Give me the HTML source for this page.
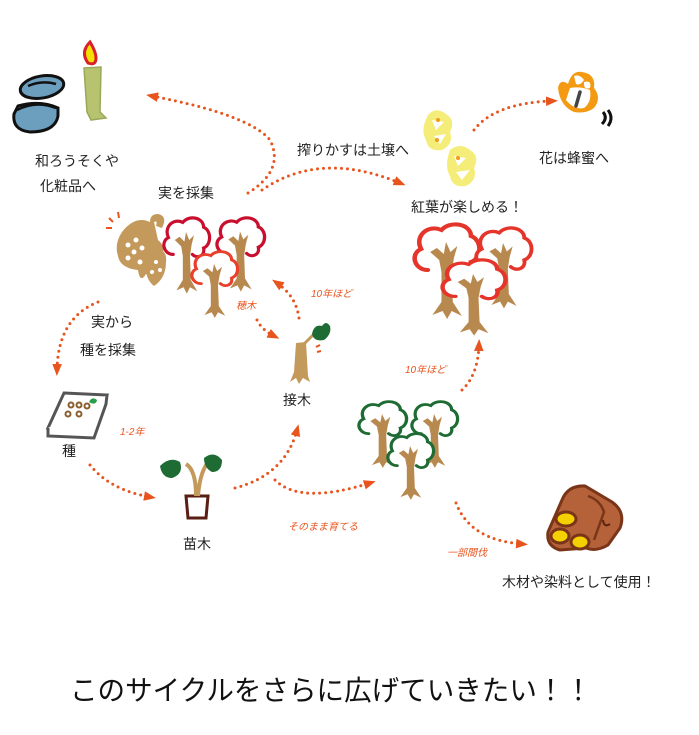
<!DOCTYPE html>
<html><head><meta charset="utf-8">
<style>
html,body{margin:0;padding:0;background:#fff;}
svg{display:block;}
text{font-family:"Liberation Sans","Noto Sans CJK JP",sans-serif;}
.lb{font-size:14px;fill:#222;}
.or{font-size:10px;fill:#e8541e;font-style:italic;}
.dot{fill:none;stroke:#e8541e;stroke-width:3;stroke-linecap:round;stroke-dasharray:0 6;}
</style></head>
<body>
<svg width="699" height="735" viewBox="0 0 699 735" xmlns="http://www.w3.org/2000/svg">
<defs>
<marker id="ah" viewBox="0 0 10 10" refX="5" refY="5" markerWidth="4" markerHeight="4" orient="auto-start-reverse">
<path d="M0,1 L10,5 L0,9 Z" fill="#e8541e"/>
</marker>
<symbol id="tree" viewBox="0 0 60 100" preserveAspectRatio="none" overflow="visible">
<path d="M14,48 C2,48 -2,32 8,27 C2,14 14,2 26,8 C34,-2 52,2 52,14 C62,18 62,36 52,40 C54,50 44,54 38,48" fill="#fff" stroke="currentColor" stroke-width="4" stroke-linecap="round"/>
<path d="M22,26 L28,32 L30,20 L34,30 L40,24 L37,36 L35,50 L36,80 L44,94 L35,89 L31,97 L27,89 L18,93 L26,80 L26,50 L24,38 L16,30 Z" fill="#b8894f"/>
</symbol>
</defs>

<!-- rings -->
<ellipse cx="42" cy="87" rx="22" ry="11" fill="#6b9fbd" stroke="#111" stroke-width="3" transform="rotate(-10 42 87)"/>
<path d="M28,86 Q42,80 56,84" stroke="#111" stroke-width="2.5" fill="none"/>
<path d="M14,114 Q12,130 30,132 Q55,132 58,116 L58,108 Q40,100 18,106 Z" fill="#6b9fbd" stroke="#111" stroke-width="3"/>
<path d="M17,110 Q36,100 56,108" stroke="#111" stroke-width="2.5" fill="none"/>
<!-- candle -->
<path d="M84,68 L101,67 L100,112 L106,118 L91,120 L87,112 Z" fill="#b7c36e" stroke="#9aa85a" stroke-width="1.5"/>
<path d="M88,63 Q80,52 90,42 Q96,52 96,58 Q96,66 88,63 Z" fill="#f4e000" stroke="#d8222a" stroke-width="3"/>

<!-- upper-left grapes -->
<path d="M122,232 Q135,215 150,222 Q150,214 158,214 Q168,216 162,228 L156,226 Q158,220 154,222 L158,240 Q166,246 162,256 Q160,276 146,274 Q140,284 138,270 Q120,268 118,256 Q114,244 122,232 Z" fill="#c49a5c"/>
<path d="M150,252 Q168,246 166,262 Q166,278 154,286 Q144,278 146,262 Z" fill="#c49a5c"/>
<g fill="#fff"><circle cx="128" cy="245" r="2.5"/><circle cx="136" cy="240" r="2.5"/><circle cx="134" cy="252" r="2.5"/><circle cx="142" cy="248" r="2.5"/><circle cx="128" cy="258" r="2.5"/><circle cx="140" cy="262" r="2.5"/><circle cx="156" cy="262" r="2"/><circle cx="152" cy="272" r="2"/><circle cx="160" cy="270" r="2"/></g>
<path d="M109,218 L113,222 M118,212 L119,218 M106,228 L112,228" stroke="#e8541e" stroke-width="2"/>

<!-- upper-left red trees -->
<use href="#tree" x="162" y="216" width="48" height="80" color="#c8102e"/>
<use href="#tree" x="215" y="216" width="50" height="78" color="#c8102e"/>
<use href="#tree" x="190" y="250" width="48" height="70" color="#e8402a"/>

<!-- right red trees -->
<use href="#tree" x="412" y="222" width="68" height="100" color="#e5342a"/>
<use href="#tree" x="474" y="226" width="58" height="85" color="#e5342a"/>
<use href="#tree" x="440" y="258" width="66" height="80" color="#e5342a"/>

<!-- green trees -->
<use href="#tree" x="357" y="400" width="50" height="70" color="#1e6b34"/>
<use href="#tree" x="410" y="400" width="48" height="70" color="#1e6b34"/>
<use href="#tree" x="386" y="432" width="48" height="70" color="#1e6b34"/>

<!-- flowers -->
<path d="M428,115 Q436,106 446,114 Q456,120 450,132 Q454,144 442,150 Q428,152 426,140 Q420,130 428,115 Z" fill="#f5ed7a"/>
<path d="M450,150 Q460,142 470,150 Q480,156 474,168 Q478,180 466,186 Q452,188 450,176 Q444,166 450,150 Z" fill="#f5ed7a"/>
<g fill="#fff"><path d="M432,120 L444,122 L436,130 Z"/><path d="M434,136 L446,134 L440,144 Z"/><path d="M454,156 L466,158 L458,166 Z"/><path d="M456,172 L470,170 L462,180 Z"/></g>
<circle cx="438" cy="120" r="2" fill="#f29a1a"/><circle cx="437" cy="140" r="2" fill="#f29a1a"/><circle cx="458" cy="158" r="2" fill="#f29a1a"/>

<!-- bee -->
<path d="M558,88 Q560,78 568,84 Q572,70 582,72 Q596,74 594,88 Q602,98 594,108 Q586,114 574,112 Q560,106 558,88 Z" fill="#f39a12"/>
<path d="M570,88 Q580,86 590,90 Q592,102 584,108 Q574,110 566,100 Z" fill="#fff"/>
<path d="M574,76 Q580,74 584,80 Q580,86 576,84 Z M584,82 Q592,80 590,88 Q584,90 584,84 Z" fill="#fff"/>
<path d="M580,92 L576,106" stroke="#444" stroke-width="3.5" stroke-linecap="round"/>
<path d="M603,112 Q608,118 602,124 M608,110 Q614,118 608,126" stroke="#111" stroke-width="3" fill="none"/>

<!-- seed box -->
<path d="M64,393 L107,395 L94,430 L48,428 Z" fill="#fff" stroke="#555" stroke-width="3"/>
<path d="M48,428 L48,436 L94,438 L106,404 L107,395" fill="#fff" stroke="#555" stroke-width="3"/>
<g fill="none" stroke="#8a6030" stroke-width="2"><circle cx="71" cy="405" r="2.5"/><circle cx="79" cy="405" r="2.5"/><circle cx="87" cy="406" r="2.5"/><circle cx="68" cy="414" r="2.5"/><circle cx="79" cy="414" r="2.5"/></g>
<path d="M89,402 Q92,396 97,400 Q96,406 89,402 Z" fill="#2a9d4a"/>

<!-- seedling pot -->
<path d="M186,496 L208,496 L206,518 L188,518 Z" fill="#fff" stroke="#5a1e12" stroke-width="3"/>
<path d="M196,496 Q196,470 186,464 M198,496 Q200,470 210,460" stroke="#c49a5c" stroke-width="4" fill="none"/>
<path d="M160,466 Q170,456 180,462 Q184,474 172,478 Q162,478 160,466 Z" fill="#1e6b34"/>
<path d="M204,458 Q214,450 222,460 Q222,472 212,472 Q204,468 204,458 Z" fill="#1e6b34"/>

<!-- graft sapling -->
<path d="M296,343 L306,342 L308,376 L310,382 L303,378 L299,384 L296,378 L290,382 L294,372 Z" fill="#c49a5c"/>
<path d="M304,344 L314,334" stroke="#c49a5c" stroke-width="3"/>
<path d="M312,334 Q314,324 322,326 Q326,320 330,326 Q332,334 324,340 Q314,342 312,334 Z" fill="#1e6b34"/>
<path d="M316,347 L320,345 M317,352 L321,351" stroke="#e8541e" stroke-width="2"/>

<!-- logs -->
<path d="M562,500 Q568,485 585,486 L612,502 Q626,512 620,528 L608,545 Q596,552 586,548 L560,550 Q546,546 548,532 Z" fill="#b5623a" stroke="#7a3518" stroke-width="3"/>
<ellipse cx="566" cy="519" rx="10" ry="7" fill="#f4d000" stroke="#7a3518" stroke-width="3"/>
<ellipse cx="560" cy="536" rx="9" ry="7" fill="#f4d000" stroke="#7a3518" stroke-width="3"/>
<ellipse cx="580" cy="542" rx="9" ry="7" fill="#f4d000" stroke="#7a3518" stroke-width="3"/>
<path d="M588,496 Q600,500 604,512 L594,540" stroke="#7a3518" stroke-width="2.5" fill="none"/>
<path d="M603,520 Q604,528 610,524" stroke="#5a2510" stroke-width="2" fill="none"/>

<!-- dotted arrows -->
<path class="dot" marker-end="url(#ah)" d="M248,193 Q285,170 270,140 Q250,115 152,96"/>
<path class="dot" marker-end="url(#ah)" d="M262,190 Q320,150 400,183"/>
<path class="dot" marker-end="url(#ah)" d="M474,130 Q495,103 552,101"/>
<path class="dot" marker-end="url(#ah)" d="M98,302 Q58,318 57,370"/>
<path class="dot" marker-end="url(#ah)" d="M90,465 Q110,490 150,497"/>
<path class="dot" marker-end="url(#ah)" d="M235,488 Q285,475 297,430"/>
<path class="dot" marker-end="url(#ah)" d="M275,480 Q300,505 370,483"/>
<path class="dot" marker-end="url(#ah)" d="M257,320 Q262,330 274,336"/>
<path class="dot" marker-end="url(#ah)" d="M299,318 Q296,296 277,283"/>
<path class="dot" marker-end="url(#ah)" d="M462,390 Q478,375 479,345"/>
<path class="dot" marker-end="url(#ah)" d="M456,503 Q470,540 522,544"/>

<!-- labels -->
<text class="lb" x="35" y="166">和ろうそくや</text>
<text class="lb" x="40" y="191">化粧品へ</text>
<text class="lb" x="158" y="198">実を採集</text>
<text class="lb" x="297" y="155">搾りかすは土壌へ</text>
<text class="lb" x="411" y="212">紅葉が楽しめる！</text>
<text class="lb" x="539" y="163">花は蜂蜜へ</text>
<text class="lb" x="91" y="327">実から</text>
<text class="lb" x="80" y="355">種を採集</text>
<text class="or" x="311" y="297">10年ほど</text>
<text class="or" x="236" y="309">穂木</text>
<text class="lb" x="283" y="405">接木</text>
<text class="or" x="405" y="373">10年ほど</text>
<text class="or" x="120" y="435">1-2年</text>
<text class="lb" x="62" y="456">種</text>
<text class="lb" x="183" y="549">苗木</text>
<text class="or" x="288" y="530">そのまま育てる</text>
<text class="or" x="447" y="556">一部間伐</text>
<text class="lb" x="502" y="587">木材や染料として使用！</text>
<text x="70" y="700" textLength="522" lengthAdjust="spacingAndGlyphs" style="font-size:28px;fill:#111">このサイクルをさらに広げていきたい！！</text>
</svg>
</body></html>
